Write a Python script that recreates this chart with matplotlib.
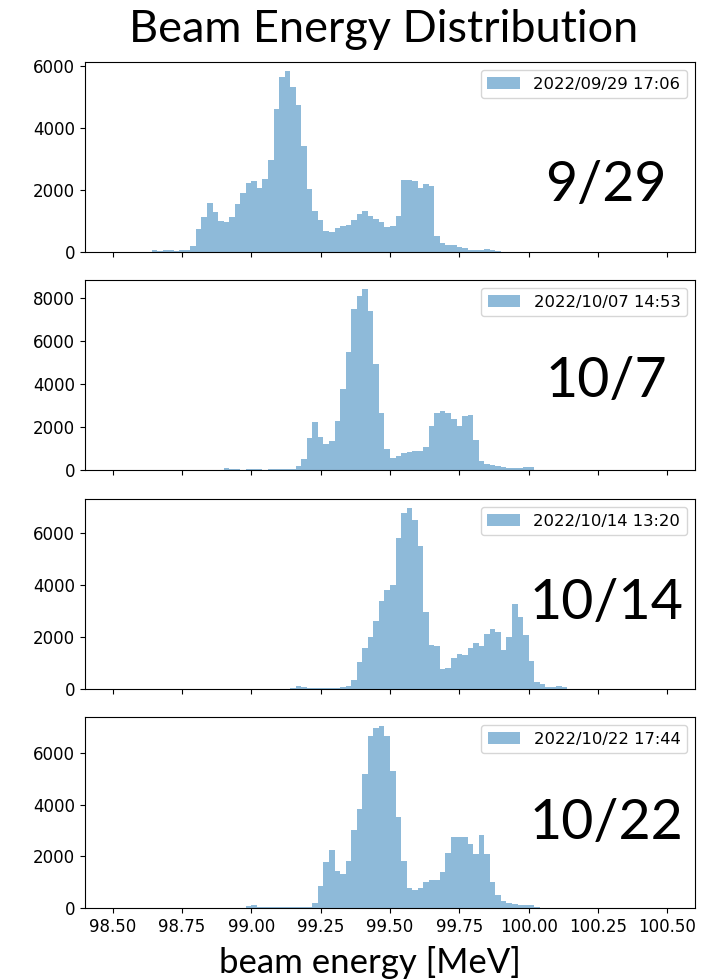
import matplotlib

matplotlib.use("Agg")
import matplotlib.pyplot as plt
import numpy as np

# Histogram counts per 0.02 MeV bin, 98.50 -> 100.50 MeV (100 bins).
energy_min = 98.5
energy_max = 100.5
n_bins = 100

counts_0929 = [
    0, 0, 0, 0, 0, 0, 0, 50, 20, 60,
    60, 30, 75, 75, 190, 730, 1125, 1590, 1290, 1010,
    965, 1135, 1545, 1900, 2240, 2305, 2070, 2370, 2990, 4620,
    5670, 5850, 5340, 4750, 3440, 2025, 1340, 1050, 686, 643,
    783, 847, 880, 1030, 1220, 1310, 1160, 1060, 965, 810,
    825, 1170, 2340, 2320, 2280, 2070, 2200, 2130, 525, 300,
    215, 235, 170, 130, 75, 65, 55, 85, 65, 30,
    10, 0, 0, 0, 0, 0, 0, 0, 0, 0,
    0, 0, 0, 0, 0, 0, 0, 0, 0, 0,
    0, 0, 0, 0, 0, 0, 0, 0, 0, 0,
]

counts_1007 = [
    0, 0, 0, 0, 0, 0, 0, 0, 0, 0,
    0, 0, 0, 0, 0, 0, 0, 0, 0, 0,
    100, 60, 60, 15, 60, 60, 60, 15, 60, 60,
    60, 60, 60, 170, 520, 1490, 2245, 1550, 1215, 1370,
    2260, 3770, 5505, 7475, 8105, 8410, 7380, 4940, 2630, 980,
    570, 645, 800, 845, 905, 860, 1090, 2030, 2630, 2720,
    2630, 2370, 2030, 2490, 2570, 1385, 400, 290, 245, 200,
    140, 105, 105, 105, 120, 150, 0, 0, 0, 0,
    0, 0, 0, 0, 0, 0, 0, 0, 0, 0,
    0, 0, 0, 0, 0, 0, 0, 0, 0, 0,
]

counts_1014 = [
    0, 0, 0, 0, 0, 0, 0, 0, 0, 0,
    0, 0, 0, 0, 0, 0, 0, 0, 0, 0,
    0, 0, 0, 0, 0, 0, 0, 0, 0, 0,
    0, 0, 40, 115, 75, 50, 50, 50, 50, 50,
    50, 90, 115, 345, 1035, 1570, 2015, 2625, 3400, 3805,
    4020, 5820, 6775, 6965, 6510, 5490, 2945, 1695, 1670, 780,
    820, 1175, 1350, 1315, 1595, 1760, 1670, 2100, 2295, 2180,
    1520, 2015, 3290, 2775, 2090, 1060, 270, 190, 90, 90,
    115, 75, 0, 0, 0, 0, 0, 0, 0, 0,
    0, 0, 0, 0, 0, 0, 0, 0, 0, 0,
]

counts_1022 = [
    0, 0, 0, 0, 0, 0, 0, 0, 0, 0,
    0, 0, 0, 0, 0, 0, 0, 0, 0, 0,
    0, 0, 0, 0, 65, 115, 40, 40, 40, 40,
    40, 40, 40, 40, 40, 40, 205, 850, 1780, 2245,
    1420, 1330, 1830, 3005, 3845, 5185, 6655, 6965, 7050, 6655,
    5300, 3520, 1820, 775, 685, 775, 1005, 1095, 1095, 1395,
    2115, 2735, 2735, 2735, 2465, 2090, 2810, 2090, 1005, 490,
    285, 205, 155, 100, 130, 100, 50, 0, 0, 0,
    0, 0, 0, 0, 0, 0, 0, 0, 0, 0,
    0, 0, 0, 0, 0, 0, 0, 0, 0, 0,
]

run_labels = [
    "2022/09/29 17:06",
    "2022/10/07 14:53",
    "2022/10/14 13:20",
    "2022/10/22 17:44",
]
date_tags = ["9/29", "10/7", "10/14", "10/22"]
all_counts = [counts_0929, counts_1007, counts_1014, counts_1022]

title_text = "Beam Energy Distribution"
xlabel_text = "beam energy [MeV]"


def main() -> None:
    edges = np.linspace(energy_min, energy_max, n_bins + 1)
    centers = 0.5 * (edges[:-1] + edges[1:])

    fig_w, fig_h = 718, 980
    fig, axes = plt.subplots(4, 1, sharex=True, figsize=(fig_w / 100, fig_h / 100), dpi=100)

    # axes boxes in pixels: (top, bottom)
    left_px, right_px = 85, 695
    boxes = [(62, 252), (280, 470), (499, 689), (717, 908)]
    tag_pos = [(606, 185), (606, 382), (607, 603), (606, 823)]

    for ax, counts, label, (top, bottom) in zip(axes, all_counts, run_labels, boxes):
        ax.set_position([
            left_px / fig_w,
            1 - bottom / fig_h,
            (right_px - left_px) / fig_w,
            (bottom - top) / fig_h,
        ])
        ax.hist(centers, bins=edges, weights=counts, alpha=0.5, label=label)
        ax.tick_params(labelsize=12)
        ax.legend(loc="upper right", fontsize=11.8)

    axes[-1].set_xticks(np.arange(98.5, 100.51, 0.25))
    axes[-1].xaxis.set_major_formatter(matplotlib.ticker.FormatStrFormatter("%.2f"))

    for tag, (x, y) in zip(date_tags, tag_pos):
        fig.text(x / fig_w, 1 - y / fig_h, tag, fontsize=40, family="Lato",
                 ha="center", va="center")

    fig.text(384 / fig_w, 1 - 30 / fig_h, title_text, fontsize=32.5, family="Lato",
             ha="center", va="center")
    fig.text(370 / fig_w, 1 - 962 / fig_h, xlabel_text, fontsize=25, family="Lato",
             ha="center", va="center")

    fig.savefig("out.png", dpi=100)
    plt.close(fig)


if __name__ == "__main__":
    main()
